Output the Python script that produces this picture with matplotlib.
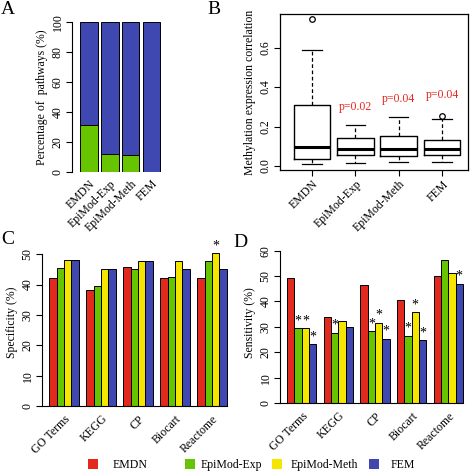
import numpy as np
import matplotlib
matplotlib.use("Agg")
import matplotlib.pyplot as plt
from matplotlib.patches import Patch

plt.rcParams['font.family'] = ['Liberation Serif', 'DejaVu Serif']
plt.rcParams['font.size'] = 8.5

methods = ['EMDN', 'EpiMod-Exp', 'EpiMod-Meth', 'FEM']
colors = ['#E3281E', '#66C400', '#F5E600', '#3F48B0']

# panel A: percentage of pathways (green part), remainder blue
pct_green = [31, 12, 11, 0]

# panel B: box stats (whislo, q1, med, q3, whishi, outliers)
box_lo = [0.010, 0.015, 0.019, 0.019]
box_q1 = [0.038, 0.058, 0.050, 0.055]
box_med = [0.098, 0.088, 0.088, 0.088]
box_q3 = [0.309, 0.144, 0.150, 0.132]
box_hi = [0.588, 0.208, 0.248, 0.240]
box_out = [[0.743], [], [], [0.251]]
pvals = ['', 'p=0.02', 'p=0.04', 'p=0.04']
pval_y = [0, 0.30, 0.34, 0.36]

# panels C and D
dbs = ['GO Terms', 'KEGG', 'CP', 'Biocart', 'Reactome']
spec = {
    'EMDN': [42.2, 38.3, 45.9, 42.2, 42.2],
    'EpiMod-Exp': [45.5, 39.6, 45.1, 42.4, 47.8],
    'EpiMod-Meth': [48.0, 45.0, 47.7, 47.7, 50.4],
    'FEM': [48.0, 45.0, 47.7, 45.1, 45.2],
}
spec_star = {
    'EMDN': [0, 0, 0, 0, 0],
    'EpiMod-Exp': [0, 0, 0, 0, 0],
    'EpiMod-Meth': [0, 0, 0, 0, 1],
    'FEM': [0, 0, 0, 0, 0],
}
sens = {
    'EMDN': [49.4, 33.7, 46.4, 40.5, 49.9],
    'EpiMod-Exp': [29.5, 27.7, 28.4, 26.5, 56.5],
    'EpiMod-Meth': [29.5, 32.3, 31.6, 35.9, 51.2],
    'FEM': [23.2, 30.0, 25.3, 24.8, 47.0],
}
sens_star = {
    'EMDN': [0, 0, 0, 0, 0],
    'EpiMod-Exp': [1, 1, 1, 1, 0],
    'EpiMod-Meth': [1, 0, 1, 1, 0],
    'FEM': [1, 0, 1, 1, 1],
}

W = H = 473
fig = plt.figure(figsize=(4.73, 4.73), dpi=100)


def px_axes(l, t, r, b):
    return fig.add_axes([l / W, 1 - b / H, (r - l) / W, (b - t) / H])


def r_style(ax):
    for s in ['top', 'right']:
        ax.spines[s].set_visible(False)
    ax.tick_params(direction='out', length=4, width=0.8, pad=2)
    for lab in ax.get_yticklabels():
        lab.set_rotation(90)
        lab.set_va('center')


# ---- A ----
axA = px_axes(72, 22, 165, 172)
xA = np.arange(4)
axA.bar(xA, pct_green, width=0.85, color=colors[1], edgecolor='black', linewidth=0.7)
axA.bar(xA, [100 - g for g in pct_green], bottom=pct_green, width=0.85,
        color=colors[3], edgecolor='black', linewidth=0.7)
axA.set_xlim(-0.8, 3.65)
axA.set_ylim(0, 100)
axA.set_yticks([0, 20, 40, 60, 80, 100])
axA.spines['bottom'].set_visible(False)
axA.set_xticks(xA)
axA.set_xticklabels(methods, rotation=45, ha='right', rotation_mode='anchor')
axA.set_ylabel('Percentage of  pathways (%)', labelpad=3)
r_style(axA)
axA.tick_params(axis='x', length=0, pad=4)

# ---- B ----
axB = px_axes(280, 14, 468, 170)
stats = []
for i in range(4):
    stats.append(dict(whislo=box_lo[i], q1=box_q1[i], med=box_med[i], q3=box_q3[i],
                      whishi=box_hi[i], fliers=box_out[i]))
axB.bxp(stats, positions=[1, 2, 3, 4], widths=0.85, capwidths=0.45,
        boxprops=dict(color='black', linewidth=1.0),
        medianprops=dict(color='black', linewidth=2.2),
        whiskerprops=dict(color='black', linewidth=0.9, linestyle=(0, (3, 2))),
        capprops=dict(color='black', linewidth=0.9),
        flierprops=dict(marker='o', markerfacecolor='none', markeredgecolor='black',
                        markersize=4, markeredgewidth=0.9))
for i in range(4):
    if pvals[i]:
        axB.text(i + 1, pval_y[i], pvals[i], color='#E8261E', ha='center', va='center', fontsize=8.5)
axB.set_xlim(0.26, 4.6)
axB.set_ylim(-0.02, 0.77)
axB.set_yticks([0.0, 0.2, 0.4, 0.6])
axB.set_yticklabels(['0.0', '0.2', '0.4', '0.6'])
axB.set_xticks([1, 2, 3, 4])
axB.set_xticklabels(methods, rotation=45, ha='right', rotation_mode='anchor')
axB.set_ylabel('Methylation expression correlation', labelpad=3)
axB.tick_params(direction='out', length=4, width=0.8, pad=2)
for lab in axB.get_yticklabels():
    lab.set_rotation(90)
    lab.set_va('center')
for s in axB.spines.values():
    s.set_linewidth(0.9)


def grouped(ax, vals, stars, ylim, yticks, ylabel):
    for j, m in enumerate(methods):
        xs = np.arange(5) * 5 + 1.5 + j
        ax.bar(xs, vals[m], width=1.0, color=colors[j], edgecolor='black', linewidth=0.7)
        for k in range(5):
            if stars[m][k]:
                ax.text(xs[k], vals[m][k] + 0.3, '*', ha='center', va='bottom', fontsize=10)
    ax.set_xlim(0.04, 25.96)
    ax.set_ylim(*ylim)
    ax.set_yticks(yticks)
    ax.spines['left'].set_bounds(yticks[0], yticks[-1])
    ax.spines['bottom'].set_bounds(0.04, 25)
    centers = np.arange(5) * 5 + 3
    ax.set_xticks(centers)
    ax.set_xticklabels(dbs, rotation=45, ha='right', rotation_mode='anchor')
    ax.set_ylabel(ylabel, labelpad=3)
    r_style(ax)
    ax.tick_params(axis='x', length=0, pad=5)


# ---- C ----
axC = px_axes(42, 239, 234, 406)
grouped(axC, spec, spec_star, (0, 55), [0, 10, 20, 30, 40, 50], 'Specificity (%)')

# ---- D ----
axD = px_axes(280, 243, 470, 403)
grouped(axD, sens, sens_star, (0, 63), [0, 10, 20, 30, 40, 50, 60], 'Sensitivity (%)')

# legend: one entry per method, placed like the original row
leg_x = [88, 185, 272, 369]
leg_pad = [1.25, 0.5, 0.75, 1.0]
for j, m in enumerate(methods):
    lg = fig.legend([Patch(facecolor=colors[j], edgecolor='none')], [m],
                    loc='center left', bbox_to_anchor=(leg_x[j] / W, 1 - 465 / H),
                    frameon=False, handlelength=0.85, handleheight=0.85,
                    handletextpad=leg_pad[j], borderpad=0, borderaxespad=0, fontsize=8.5)

# panel letters
for lab, x, y in [('A', 1, 10), ('B', 207, 9), ('C', 1, 239), ('D', 233, 242)]:
    fig.text(x / W, 1 - y / H, lab, fontsize=14, ha='left', va='center')

fig.savefig('out.png', dpi=100)
